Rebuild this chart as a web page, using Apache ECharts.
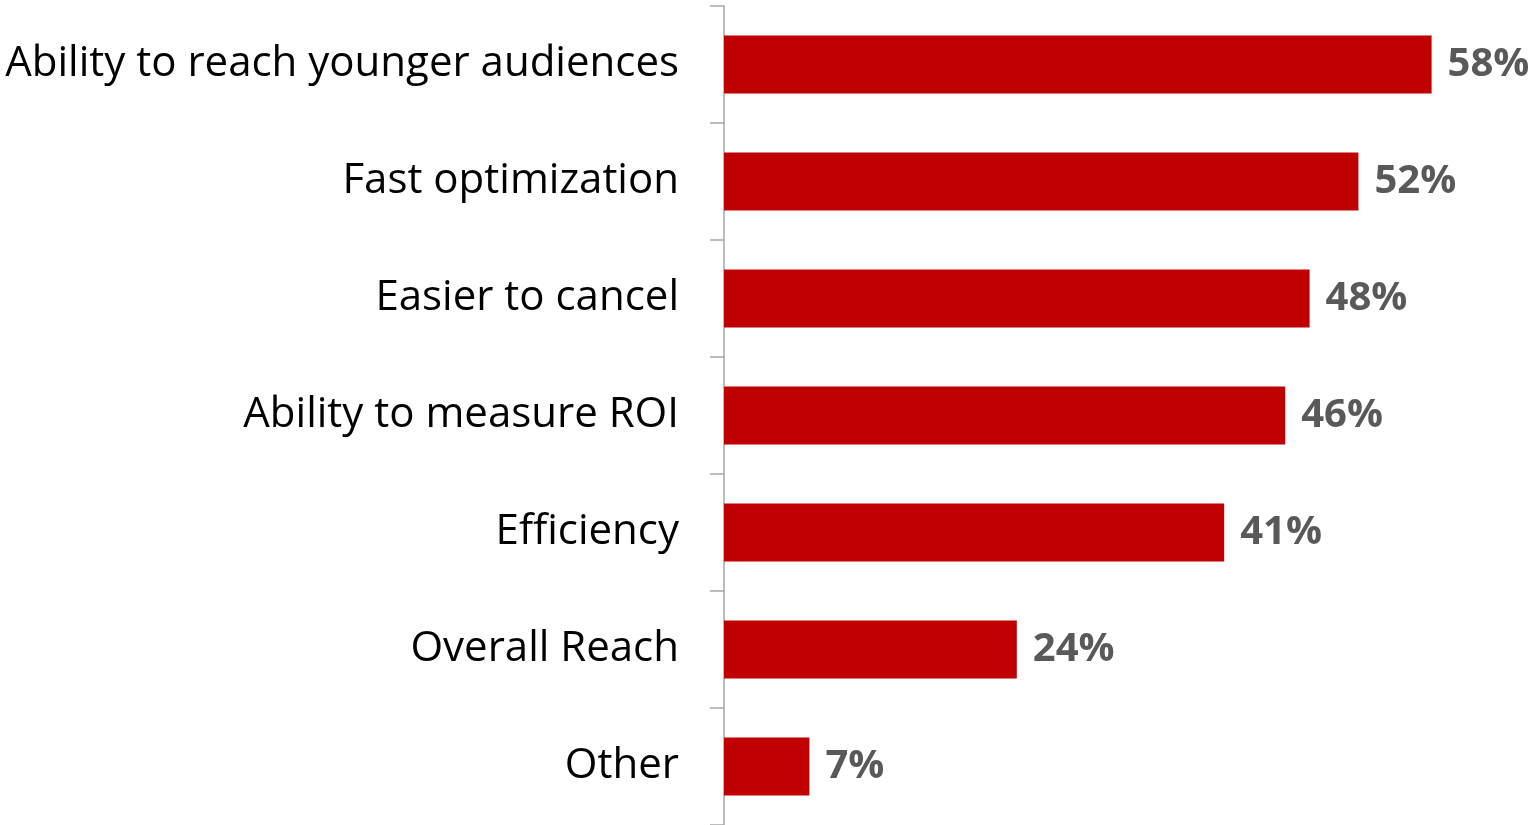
<!DOCTYPE html>
<html>
<head>
<meta charset="utf-8">
<script src="https://cdn.jsdelivr.net/npm/echarts@6/dist/echarts.min.js"></script>
<style>
  html, body { margin: 0; padding: 0; background: #fff; }
  #chart { width: 1532px; height: 825px; }
</style>
</head>
<body>
<div id="chart"></div>
<script>
// 数据
var categories = ['Ability to reach younger audiences', 'Fast optimization', 'Easier to cancel',
    'Ability to measure ROI', 'Efficiency', 'Overall Reach', 'Other'];
var values = [58, 52, 48, 46, 41, 24, 7];

var myChart = echarts.init(document.getElementById('chart'));

var option = {
    animation: false,
    grid: {
        left: 724,
        right: 76,
        top: 6,
        bottom: 0,
        containLabel: false
    },
    xAxis: {
        type: 'value',
        min: 0,
        max: 60,
        show: false
    },
    yAxis: {
        type: 'category',
        inverse: true,
        data: categories,
        axisLine: {
            show: true,
            lineStyle: { color: '#a6a6a6', width: 1.5 }
        },
        axisTick: {
            show: true,
            length: 14,
            lineStyle: { color: '#a6a6a6', width: 1.5 }
        },
        axisLabel: {
            margin: 45,
            color: '#000',
            fontSize: 42,
            fontFamily: 'Open Sans'
        },
        splitLine: { show: false }
    },
    series: [{
        type: 'bar',
        data: values,
        barWidth: 58,
        itemStyle: { color: '#c00000' },
        label: {
            show: true,
            position: 'right',
            distance: 16,
            formatter: '{c}%',
            color: '#595959',
            fontSize: 40,
            fontWeight: 'bold',
            fontFamily: 'Open Sans'
        }
    }]
};

myChart.setOption(option);
</script>
</body>
</html>
